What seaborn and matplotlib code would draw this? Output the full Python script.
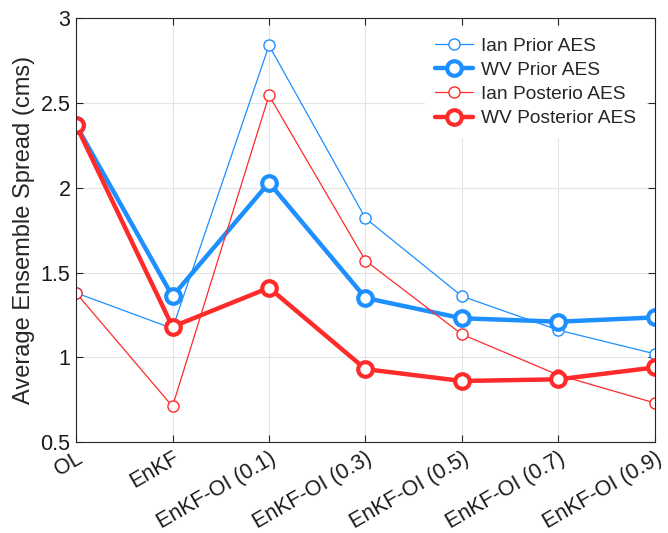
import matplotlib
matplotlib.use("Agg")
import matplotlib.pyplot as plt
import seaborn as sns
import pandas as pd

methods = ["OL", "EnKF", "EnKF-OI (0.1)", "EnKF-OI (0.3)", "EnKF-OI (0.5)",
           "EnKF-OI (0.7)", "EnKF-OI (0.9)"]
ian_prior = [1.38, 1.17, 2.84, 1.82, 1.36, 1.16, 1.02]
wv_prior = [2.37, 1.36, 2.03, 1.35, 1.23, 1.21, 1.235]
ian_posterior = [1.38, 0.71, 2.545, 1.57, 1.135, 0.895, 0.73]
wv_posterior = [2.37, 1.18, 1.41, 0.93, 0.86, 0.87, 0.94]

series = [
    ("Ian Prior AES", ian_prior, "#1E8FFF", 0.9, 8, 1.0),
    ("WV Prior AES", wv_prior, "#1E8FFF", 3.2, 10.5, 3.0),
    ("Ian Posterio AES", ian_posterior, "#FF2A2A", 0.9, 8, 1.0),
    ("WV Posterior AES", wv_posterior, "#FF2A2A", 3.2, 10.5, 3.0),
]

sns.set_theme(style="white")
plt.rcParams["font.family"] = ["Liberation Sans", "DejaVu Sans"]

fig = plt.figure(figsize=(6.68, 5.33), dpi=100)
ax = fig.add_axes([0.1138, 0.1707, 0.8667, 0.795])

x = list(range(len(methods)))
for name, vals, color, lw, ms, mew in series:
    df = pd.DataFrame({"x": x, "y": vals})
    sns.lineplot(data=df, x="x", y="y", ax=ax, color=color, linewidth=lw,
                 marker="o", markersize=ms, markerfacecolor="white",
                 markeredgecolor=color, markeredgewidth=mew, label=name)

ax.set_xlim(0, len(methods) - 1)
ax.set_ylim(0.5, 3)
ax.set_xticks(x)
ax.set_xticklabels(methods, rotation=30, ha="right", rotation_mode="anchor",
                   fontsize=15.5)
ax.set_yticks([0.5, 1, 1.5, 2, 2.5, 3])
ax.set_yticklabels(["0.5", "1", "1.5", "2", "2.5", "3"], fontsize=15.5)
ax.set_xlabel("")
ax.set_ylabel("Average Ensemble Spread (cms)", fontsize=17, color="#262626",
              labelpad=4)

ax.grid(True, color="#e3e3e3", linewidth=0.8)
ax.set_axisbelow(True)
for sp in ax.spines.values():
    sp.set_visible(True)
    sp.set_color("#262626")
    sp.set_linewidth(0.8)
ax.tick_params(axis="both", direction="in", length=5, width=0.8,
               colors="#262626", top=True, right=True, bottom=True, left=True,
               labelcolor="#1a1a1a", pad=4)

leg = ax.legend(loc="upper right", fontsize=13.8, frameon=True,
                facecolor="white", edgecolor="white", framealpha=1,
                handlelength=2.0, handletextpad=0.4, borderaxespad=0.5,
                borderpad=0.5, labelspacing=0.35)

fig.savefig("out.png", dpi=100)
